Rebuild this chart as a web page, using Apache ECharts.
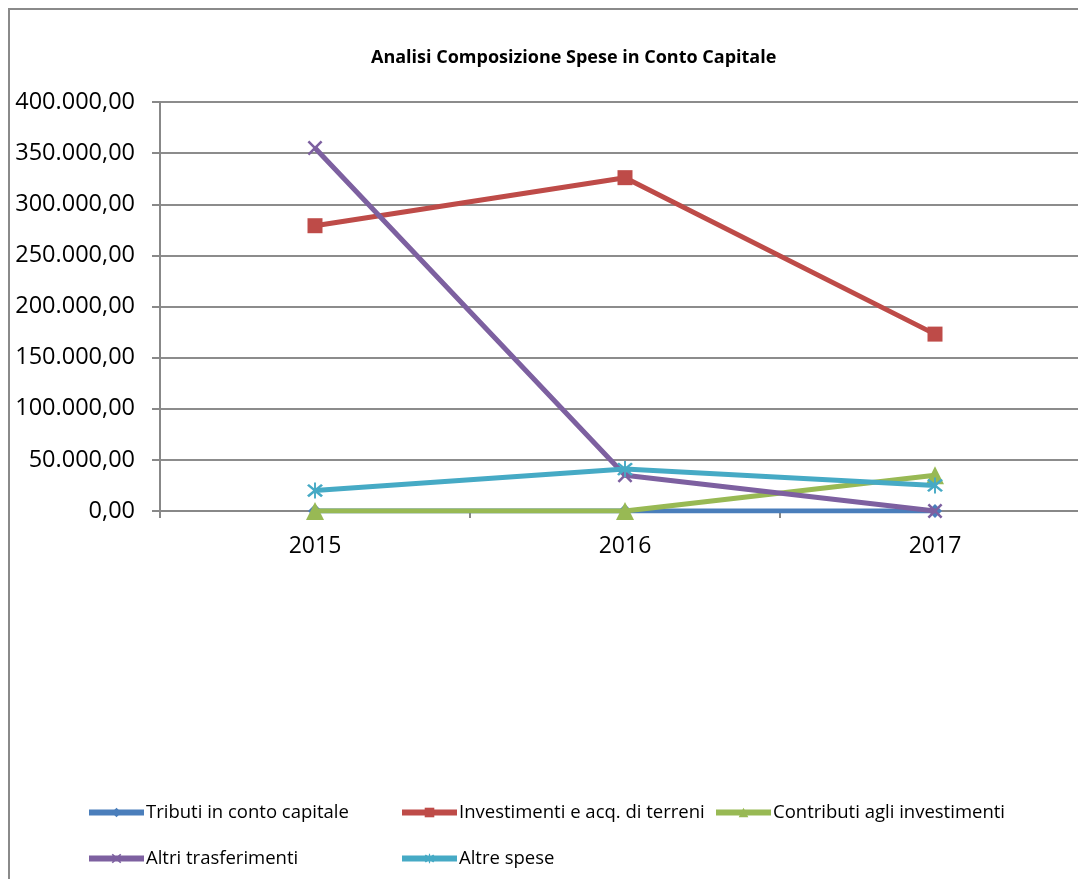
<!DOCTYPE html>
<html>
<head>
<meta charset="utf-8">
<script src="https://cdn.jsdelivr.net/npm/echarts@6/dist/echarts.min.js"></script>
<style>
html,body{margin:0;padding:0;overflow:hidden;background:#fff;width:1078px;height:879px;}
#c{position:absolute;left:0;top:0;width:1090px;height:879px;}
</style>
</head>
<body>
<div id="c"></div>
<script>
var categories = ['2015', '2016', '2017'];
var seriesNames = ['Tributi in conto capitale', 'Investimenti e acq. di terreni', 'Contributi agli investimenti', 'Altri trasferimenti', 'Altre spese'];
var tributi = [0, 0, 0];
var investimenti = [279000, 326000, 173000];
var contributi = [0, 0, 35000];
var altriTrasferimenti = [355000, 35000, 0];
var altreSpese = [20000, 41000, 25000];
var yTicks = [0, 50000, 100000, 150000, 200000, 250000, 300000, 350000, 400000];

var colors = ['#4a7ebb', '#be4b48', '#98b954', '#7d60a0', '#46aac5'];
var xPath = 'path://M0,1.2 L1.2,0 L5,3.8 L8.8,0 L10,1.2 L6.2,5 L10,8.8 L8.8,10 L5,6.2 L1.2,10 L0,8.8 L3.8,5 Z';
var starPath = 'path://M0,1.2 L1.2,0 L5,3.8 L8.8,0 L10,1.2 L6.2,5 L10,8.8 L8.8,10 L5,6.2 L1.2,10 L0,8.8 L3.8,5 Z M4.4,-1 L5.6,-1 L5.6,11 L4.4,11 Z';
var symbols = ['diamond', 'rect', 'triangle', xPath, starPath];
var sizes = [14, 15, 18, 15, 16];
var dataArr = [tributi, investimenti, contributi, altriTrasferimenti, altreSpese];

function fmtIt(v) {
  var s = Math.round(v).toString();
  s = s.replace(/\B(?=(\d{3})+(?!\d))/g, '.');
  return s + ',00';
}

var FONT = '"Open Sans", sans-serif';
var series = [];
var legends = [];
var legendPos = [[86, 803], [399, 803], [713, 803], [86, 849], [399, 849]];
for (var i = 0; i < 5; i++) {
  series.push({
    name: seriesNames[i],
    type: 'line',
    data: dataArr[i],
    symbol: symbols[i],
    symbolSize: sizes[i],
    showAllSymbol: true,
    lineStyle: {color: colors[i], width: 5},
    itemStyle: {color: colors[i], borderWidth: 0},
    emphasis: {disabled: true},
    z: 2 + i
  });
  legends.push({
    data: [seriesNames[i]],
    left: legendPos[i][0],
    top: legendPos[i][1],
    orient: 'horizontal',
    itemWidth: 55,
    itemHeight: 12,
    itemGap: 0,
    padding: 0,
    selectedMode: false,
    lineStyle: {width: 6},
    textStyle: {fontFamily: FONT, fontSize: 18.5, color: '#000', padding: [0, 0, 0, -3]}
  });
}

var chart = echarts.init(document.getElementById('c'), null, {renderer: 'canvas'});
chart.setOption({
  animation: false,
  backgroundColor: '#fff',
  title: {
    text: 'Analisi Composizione Spese in Conto Capitale',
    left: 366,
    top: 44,
    textStyle: {fontFamily: FONT, fontSize: 18, fontWeight: 'bold', color: '#000'}
  },
  graphic: [{
    type: 'polyline',
    shape: {points: [[9, 1000], [9, 9], [1200, 9]]},
    style: {fill: 'none', stroke: '#8a8a8a', lineWidth: 2},
    silent: true,
    z: 100
  }],
  legend: legends,
  grid: {left: 160, right: 0, top: 102, bottom: 368, containLabel: false},
  xAxis: {
    type: 'category',
    data: categories,
    boundaryGap: true,
    axisLine: {lineStyle: {color: '#888', width: 2}},
    axisTick: {show: true, length: 7, lineStyle: {color: '#888', width: 2}},
    axisLabel: {fontFamily: FONT, fontSize: 23, color: '#000', margin: 24}
  },
  yAxis: {
    type: 'value',
    min: 0,
    max: 400000,
    interval: 50000,
    axisLine: {show: true, lineStyle: {color: '#888', width: 2}},
    axisTick: {show: true, length: 8, lineStyle: {color: '#888', width: 2}},
    splitLine: {lineStyle: {color: '#8c8c8c', width: 2}},
    axisLabel: {fontFamily: FONT, fontSize: 23.5, color: '#000', margin: 25, formatter: function (v) { return fmtIt(v); }}
  },
  series: series
});
</script>
</body>
</html>
